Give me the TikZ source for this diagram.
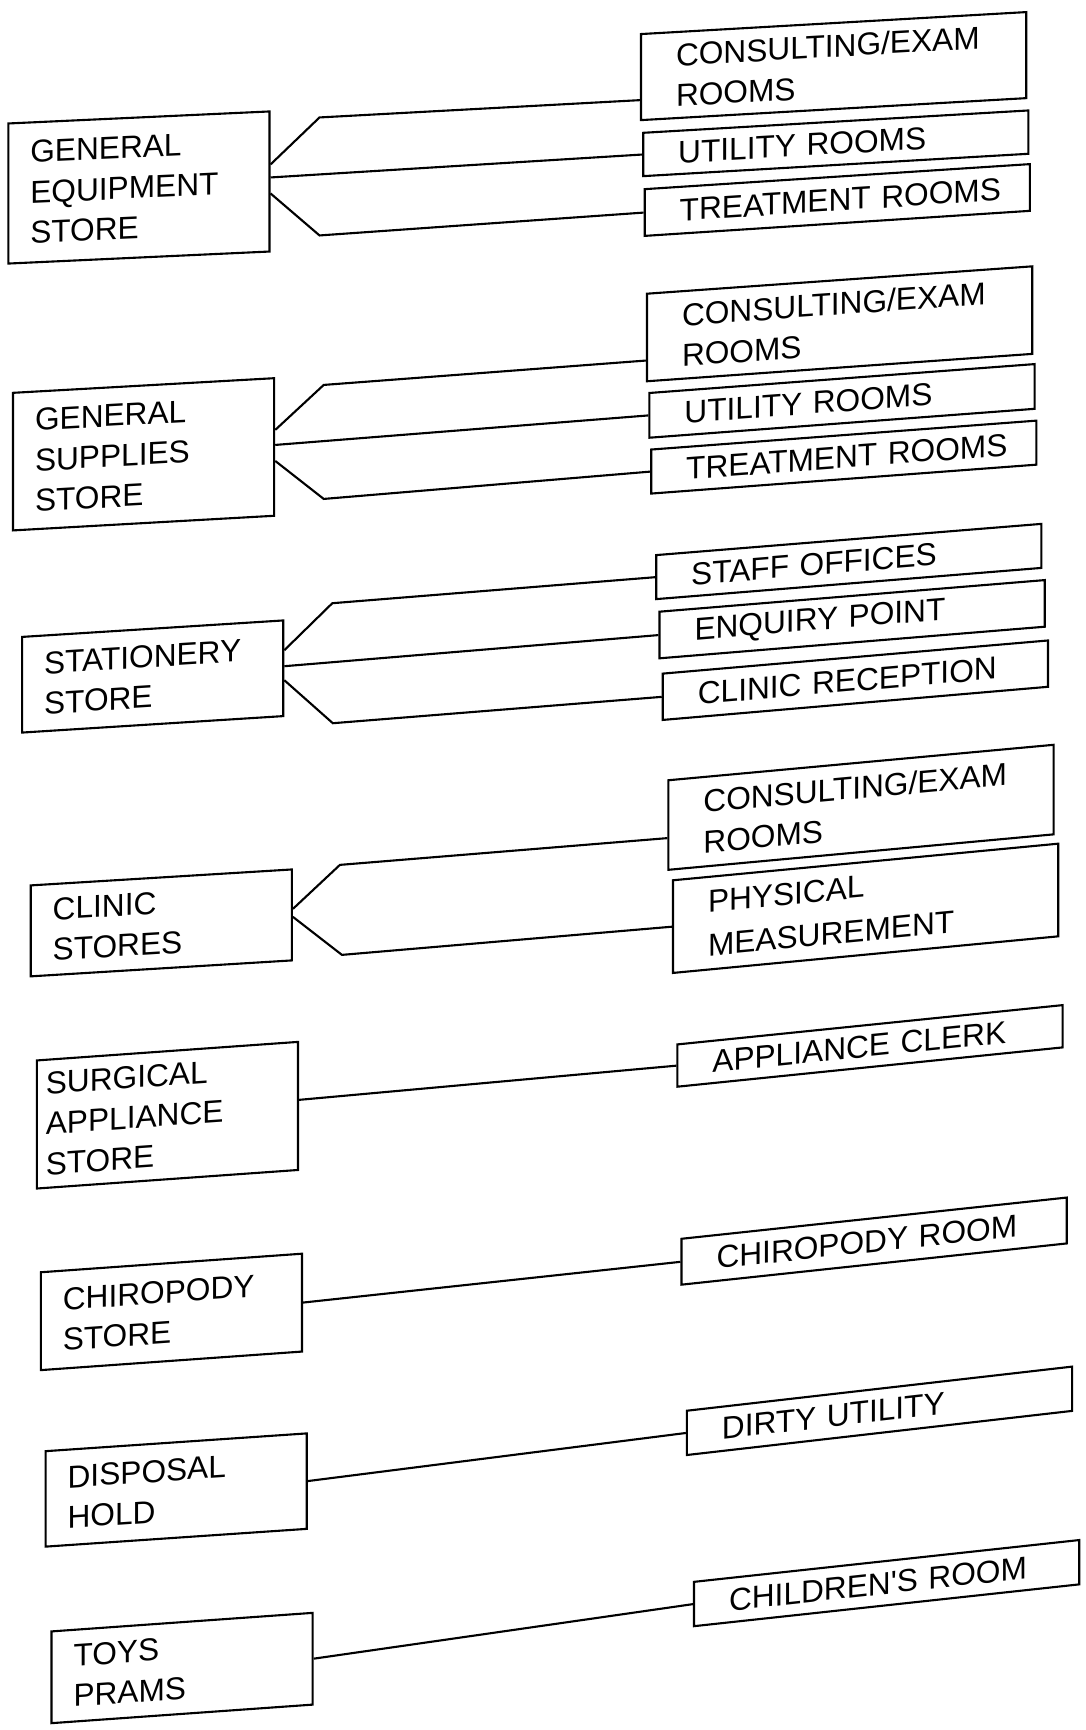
\documentclass[tikz,border=0pt]{standalone}
\usepackage{fontspec}
\setmainfont{Liberation Sans}
\usepackage{tikz}
\usetikzlibrary{calc}

\begin{document}
\begin{tikzpicture}[x=0.01cm,y=-0.01cm,line width=0.6pt,
  every node/.style={font=\fontsize{9}{11.5}\selectfont},
  store/.style={draw,align=left,inner ysep=0pt,inner xsep=0.22cm,text width=2.17cm,minimum height=#1},
  room/.style={draw,align=left,inner ysep=0pt,inner xsep=0.35cm,text width=3.15cm,minimum height=#1}]
  \useasboundingbox (0,0) rectangle (1086,1730);

  % general equipment store
  \node[store=1.40cm,yslant=0.046] (st1) at (138.9,187.5) {GENERAL\\EQUIPMENT\\STORE};
  \node[room=0.86cm,yslant=0.057] (r1a) at (833.6,66.1) {CONSULTING/EXAM\\ROOMS};
  \node[room=0.433cm,yslant=0.058] (r1b) at (835.8,143.3) {UTILITY ROOMS};
  \node[room=0.467cm,yslant=0.065] (r1c) at (837.3,200) {TREATMENT~ROOMS};
  \draw ($(st1.east)+(0,-17)$) -- ++(49,-47) -- ($(r1a.west)+(0,23)$);
  \draw ($(st1.east)+(0,-4)$) -- (r1b.west);
  \draw ($(st1.east)+(0,12)$) -- ++(49,42) -- (r1c.west);

  % general supplies store
  \node[store=1.375cm,yslant=0.056] (st2) at (143.6,454.3) {GENERAL\\SUPPLIES\\STORE};
  \node[room=0.875cm,yslant=0.071] (r2a) at (839.6,323.8) {CONSULTING/EXAM\\ROOMS};
  \node[room=0.447cm,yslant=0.075] (r2b) at (842,400.9) {UTILITY ROOMS};
  \node[room=0.44cm,yslant=0.075] (r2c) at (843.8,457.1) {TREATMENT~ROOMS};
  \draw ($(st2.east)+(0,-17)$) -- ++(48.5,-45) -- ($(r2a.west)+(0,23)$);
  \draw ($(st2.east)+(0,-2)$) -- (r2b.west);
  \draw ($(st2.east)+(0,14)$) -- ++(48.5,38) -- (r2c.west);

  % stationery store
  \node[store=0.956cm,yslant=0.063] (st3) at (152.7,676.5) {STATIONERY\\STORE};
  \node[room=0.44cm,yslant=0.081] (r3a) at (848.8,561.5) {STAFF OFFICES};
  \node[room=0.466cm,yslant=0.082] (r3b) at (852.1,619.2) {ENQUIRY POINT};
  \node[room=0.463cm,yslant=0.086] (r3c) at (855.4,680.2) {CLINIC RECEPTION};
  \draw ($(st3.east)+(0,-18)$) -- ++(48,-47) -- (r3a.west);
  \draw ($(st3.east)+(0,-2)$) -- (r3b.west);
  \draw ($(st3.east)+(0,12)$) -- ++(48.5,43) -- (r3c.west);

  % clinic stores
  \node[store=0.909cm,yslant=0.061] (st4) at (161.3,922.9) {CLINIC\\STORES};
  \node[room=0.895cm,yslant=0.092] (r4a) at (861,807.3) {CONSULTING/EXAM\\ROOMS};
  \node[room=0.926cm,yslant=0.095,font=\fontsize{9}{12.5}\selectfont] (r4b) at (865.6,908.3) {PHYSICAL\\MEASUREMENT};
  \draw ($(st4.east)+(0,-6)$) -- ++(47,-44) -- ($(r4a.west)+(0,13)$);
  \draw ($(st4.east)+(0,2)$) -- ++(49,38) -- (r4b.west);

  % single rooms
  \node[store=1.28cm,inner xsep=0.09cm,text width=2.43cm,yslant=0.071] (st5) at (167.4,1115.2) {SURGICAL\\APPLIANCE\\STORE};
  \node[room=0.4225cm,yslant=0.102] (r5) at (870,1045.9) {APPLIANCE CLERK};
  \draw ($(st5.east)+(0,-6)$) -- (r5.west);

  \node[store=0.978cm,yslant=0.071] (st6) at (171.4,1311.9) {CHIROPODY\\STORE};
  \node[room=0.4585cm,yslant=0.107] (r6) at (874.1,1241.1) {CHIROPODY ROOM};
  \draw (st6.east) -- (r6.west);

  \node[store=0.954cm,yslant=0.068] (st7) at (176.2,1490) {DISPOSAL\\HOLD};
  \node[room=0.4425cm,yslant=0.1145] (r7) at (879.5,1410.8) {DIRTY UTILITY};
  \draw (st7.east) -- (r7.west);

  \node[store=0.917cm,yslant=0.071] (st8) at (182.1,1668) {TOYS\\PRAMS};
  \node[room=0.443cm,yslant=0.1085] (r8) at (886.6,1583.1) {CHILDREN\textquotesingle S ROOM};
  \draw (st8.east) -- (r8.west);
\end{tikzpicture}
\end{document}
